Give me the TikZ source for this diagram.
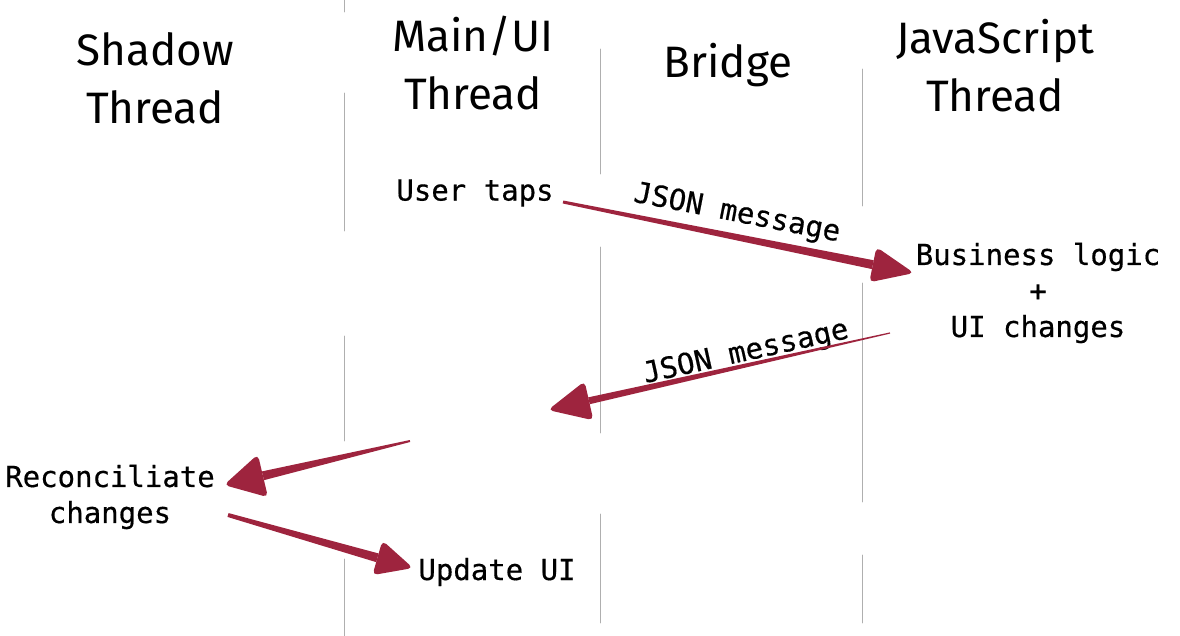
\documentclass[tikz,border=0pt]{standalone}
\usepackage{fontspec}
\setmonofont[FakeBold=0.5]{DejaVu Sans Mono}
\newfontfamily\headfont{Fira Sans}
\usetikzlibrary{calc}
\definecolor{arrowred}{RGB}{158,36,62}
\definecolor{lanegray}{RGB}{175,175,175}
\tikzset{
  header/.style={font=\headfont\fontsize{44}{58}\selectfont, align=center, inner sep=0pt},
  msg/.style={font=\ttfamily\fontsize{29}{36}\selectfont, align=center, inner sep=0pt},
  lane/.style={draw=lanegray, line width=0.9pt},
}
% tapered hand-drawn arrow: tail, tip, tail half-width, body half-width, head length, head half-width
\newcommand{\handarrow}[6]{%
  \coordinate (hb) at ($(#2)!#5!(#1)$);
  \fill[arrowred, line join=round] ($(#1)!#3!90:(#2)$) -- ($(hb)!#4!90:(#2)$)
    -- ($(hb)!#4!-90:(#2)$) -- ($(#1)!#3!-90:(#2)$) -- cycle;
  \fill[arrowred, rounded corners=5pt] ($(hb)!#6!90:(#2)$) -- (#2) -- ($(hb)!#6!-90:(#2)$) -- cycle;
}
\begin{document}
\begin{tikzpicture}[x=1pt, y=-1pt, line cap=round]
 \useasboundingbox (0,0) rectangle (1180,636);
 % thread lanes
 \foreach \x/\a/\b in {344/0/12, 344/93/231, 344/336/441, 344/559/636,
   600/49/174, 600/247/433, 600/514/623,
   862/69/206, 862/283/502, 862/555/623}
 \draw[lane] (\x,\a) -- (\x,\b);
 % headers
 \node[header] (shadow) at (155,78) {Shadow\\Thread};
 \node[header] (main) at (473,63) {Main/UI\\Thread};
 \node[header] (bridge) at (728,65) {Bridge};
 \node[header] (js) at (995,66) {JavaScript\\Thread};
 % steps
 \node[msg] (taps) at (475,193) {User taps};
 \node[msg] (logic) at (1038,293) {Business logic\\+\\UI changes};
 \node[msg] (recon) at (110,497) {Reconciliate\\changes};
 \node[msg] (update) at (497,572) {Update UI};
 \node[msg, rotate=-11] (json1) at (737,214) {JSON message};
 \node[msg, rotate=12.5] (json2) at (746,353) {JSON message};
 % arrow ends
 \coordinate (a1s) at (563,202);
 \coordinate (a1e) at (914,273);
 \coordinate (a2s) at (890,333);
 \coordinate (a2e) at (548,410);
 \coordinate (a3s) at (410,441);
 \coordinate (a3e) at (224,485);
 \coordinate (a4s) at (228,515);
 \coordinate (a4e) at (413,568);
 \handarrow{a1s}{a1e}{1.5pt}{4.5pt}{42pt}{18pt}
 \handarrow{a2s}{a2e}{0.6pt}{3.5pt}{42pt}{20pt}
 \handarrow{a3s}{a3e}{1pt}{4.5pt}{40pt}{22pt}
 \handarrow{a4s}{a4e}{2pt}{4.5pt}{37pt}{18pt}
\end{tikzpicture}
\end{document}
